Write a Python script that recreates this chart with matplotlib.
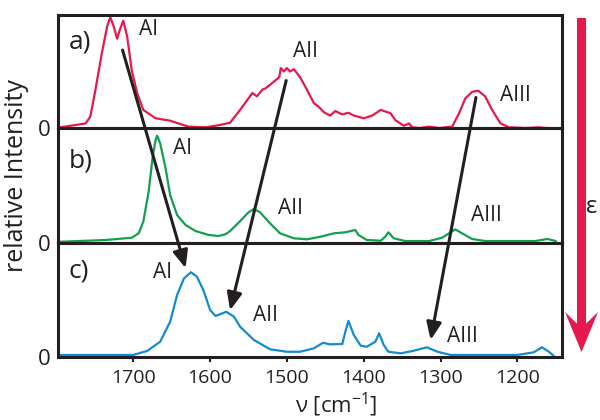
import matplotlib
matplotlib.use("Agg")
import matplotlib.pyplot as plt
from matplotlib.patches import ConnectionPatch, Polygon, Rectangle

plt.rcParams['font.family'] = ['Open Sans', 'DejaVu Sans']
plt.rcParams['mathtext.default'] = 'regular'

# ---- data (wavenumber in cm^-1, relative intensity) ----
wn_a = [1795, 1762, 1756, 1750, 1741, 1734, 1730, 1726, 1721, 1717, 1713, 1708, 1702,
        1695, 1687, 1671, 1652, 1641, 1628, 1606, 1587, 1574, 1561, 1545, 1539, 1532,
        1528, 1517, 1510, 1508, 1504, 1500, 1496, 1491, 1483, 1474, 1465, 1459, 1452,
        1444, 1437, 1428, 1420, 1413, 1400, 1389, 1378, 1365, 1359, 1348, 1341, 1337,
        1328, 1315, 1302, 1285, 1276, 1268, 1259, 1251, 1242, 1233, 1222, 1211, 1190,
        1172, 1163, 1158]
int_a = [0.006, 0.04, 0.10, 0.31, 0.66, 0.90, 0.98, 0.91, 0.79, 0.88, 0.95, 0.81, 0.51,
         0.31, 0.16, 0.086, 0.065, 0.04, 0.012, 0.006, 0.027, 0.047, 0.16, 0.31, 0.28, 0.34,
         0.35, 0.41, 0.45, 0.53, 0.50, 0.53, 0.50, 0.52, 0.45, 0.34, 0.22, 0.19, 0.14,
         0.11, 0.15, 0.12, 0.135, 0.11, 0.086, 0.11, 0.16, 0.13, 0.07, 0.02, 0.04, 0.006,
         0.0, 0.012, 0.0, 0.012, 0.13, 0.26, 0.32, 0.33, 0.28, 0.16, 0.04, 0.006, 0.0,
         0.006, 0.0, 0.0]

wn_b = [1795, 1736, 1702, 1693, 1687, 1680, 1675, 1671, 1669, 1665, 1658, 1652, 1643,
        1632, 1619, 1602, 1589, 1580, 1574, 1561, 1550, 1543, 1535, 1522, 1509, 1491,
        1474, 1456, 1439, 1424, 1411, 1407, 1396, 1378, 1372, 1368, 1361, 1346, 1315,
        1298, 1287, 1281, 1272, 1259, 1242, 1177, 1161, 1150]
int_b = [0.011, 0.026, 0.046, 0.084, 0.185, 0.446, 0.737, 0.896, 0.933, 0.867, 0.65, 0.417,
         0.243, 0.157, 0.104, 0.07, 0.061, 0.076, 0.104, 0.19, 0.267, 0.296, 0.267, 0.171,
         0.084, 0.041, 0.032, 0.055, 0.084, 0.093, 0.113, 0.07, 0.026, 0.02, 0.055, 0.093,
         0.041, 0.017, 0.017, 0.046, 0.093, 0.119, 0.084, 0.035, 0.017, 0.017, 0.035, 0.017]

wn_c = [1795, 1700, 1682, 1665, 1652, 1643, 1634, 1625, 1617, 1608, 1600, 1593, 1584,
        1579, 1569, 1561, 1543, 1522, 1500, 1483, 1465, 1453, 1444, 1428, 1424, 1420,
        1413, 1404, 1396, 1385, 1380, 1374, 1368, 1352, 1335, 1318, 1304, 1287, 1200,
        1179, 1168, 1159, 1153]
int_c = [0.018, 0.018, 0.053, 0.134, 0.31, 0.544, 0.69, 0.743, 0.704, 0.573, 0.412, 0.36,
         0.383, 0.397, 0.354, 0.266, 0.149, 0.068, 0.046, 0.046, 0.076, 0.125, 0.111,
         0.114, 0.222, 0.316, 0.193, 0.099, 0.09, 0.134, 0.208, 0.105, 0.046, 0.032,
         0.055, 0.085, 0.046, 0.018, 0.018, 0.041, 0.085, 0.046, 0.011]

panel_labels = ['a)', 'b)', 'c)']
band_labels = ['AI', 'AII', 'AIII']
xticks = [1700, 1600, 1500, 1400, 1300, 1200]
xlim = (1798, 1142)

# arrow start (panel a) and end (panel c) points in data units
arrow_start = [(1714, 0.69), (1501, 0.42), (1254, 0.27)]
arrow_end = [(1632, 0.78), (1574, 0.41), (1313, 0.15)]

RED = '#e5194b'
GREEN = '#12a04b'
BLUE = '#128bd0'
INK = '#231f20'

W, H = 600, 420
fig = plt.figure(figsize=(6, 4.2), dpi=100)

def fx(px):
    return px / W

def fy(py):
    return 1 - py / H

left, right = 58, 562
bounds = [(15, 128), (128, 243), (243, 357)]
axes = []
for (t, b) in bounds:
    ax = fig.add_axes([fx(left), fy(b), fx(right) - fx(left), fy(t) - fy(b)])
    axes.append(ax)

series = [(wn_a, int_a, RED), (wn_b, int_b, GREEN), (wn_c, int_c, BLUE)]
for ax, (w, i, col) in zip(axes, series):
    ax.plot(w, i, color=col, lw=1.6, solid_joinstyle='round', solid_capstyle='round')
    ax.set_xlim(*xlim)
    ax.set_ylim(0, 1)
    for s in ax.spines.values():
        s.set_color(INK)
        s.set_linewidth(2.2)
    ax.set_yticks([0])
    ax.set_yticklabels(['0'], fontsize=16, color=INK)
    ax.tick_params(axis='y', length=0, pad=5)
    ax.set_xticks(xticks)
    ax.patch.set_alpha(0)

for ax in axes[:2]:
    ax.tick_params(axis='x', length=0, labelbottom=False)
axes[2].set_xticklabels([str(v) for v in xticks], fontsize=14, color=INK)
axes[2].tick_params(axis='x', direction='out', length=3.6, width=1.5, color=INK, pad=5)

# panel letters
letter_pos = [(0.044, 0.761), (0.046, 0.713), (0.042, 0.754)]
for ax, lab, (x, y) in zip(axes, panel_labels, letter_pos):
    ax.text(x, y, lab, transform=ax.transAxes, fontsize=19, color=INK,
            ha='center', va='center')

# band labels (axes fraction)
band_pos = [
    [(0.179, 0.876), (0.492, 0.681), (0.907, 0.292)],
    [(0.248, 0.826), (0.462, 0.296), (0.851, 0.235)],
    [(0.208, 0.737), (0.411, 0.360), (0.802, 0.184)],
]
for ax, poslist in zip(axes, band_pos):
    for lab, (x, y) in zip(band_labels, poslist):
        ax.text(x, y, lab, transform=ax.transAxes, fontsize=15, color=INK,
                ha='center', va='center')

# black arrows from panel a to panel c
for s, e in zip(arrow_start, arrow_end):
    cp = ConnectionPatch(xyA=s, coordsA=axes[0].transData, xyB=e, coordsB=axes[2].transData,
                         arrowstyle='-|>,head_length=0.7,head_width=0.3',
                         mutation_scale=15, color=INK, lw=2.2, shrinkA=0, shrinkB=0)
    fig.add_artist(cp)

# labels
axes[2].set_xlabel(r'ν [cm$^{-1}$]', fontsize=16, color=INK)
axes[2].xaxis.set_label_coords(0.552, -0.30)
fig.text(fx(17), fy(176), 'relative Intensity', rotation=90, fontsize=18, color=INK,
         ha='center', va='center')

# red epsilon arrow at the right
fig.add_artist(Rectangle((fx(577), fy(330)), fx(9), fy(18) - fy(330),
                         transform=fig.transFigure, color=RED, lw=0))
fig.add_artist(Polygon([(fx(565), fy(312)), (fx(581.5), fy(352)), (fx(598), fy(312)),
                        (fx(581.5), fy(328))], closed=True,
                       transform=fig.transFigure, color=RED, lw=0))
fig.text(fx(592), fy(207), 'ε', fontsize=17, color=INK, ha='center', va='center')

fig.savefig('out.png', dpi=100)
